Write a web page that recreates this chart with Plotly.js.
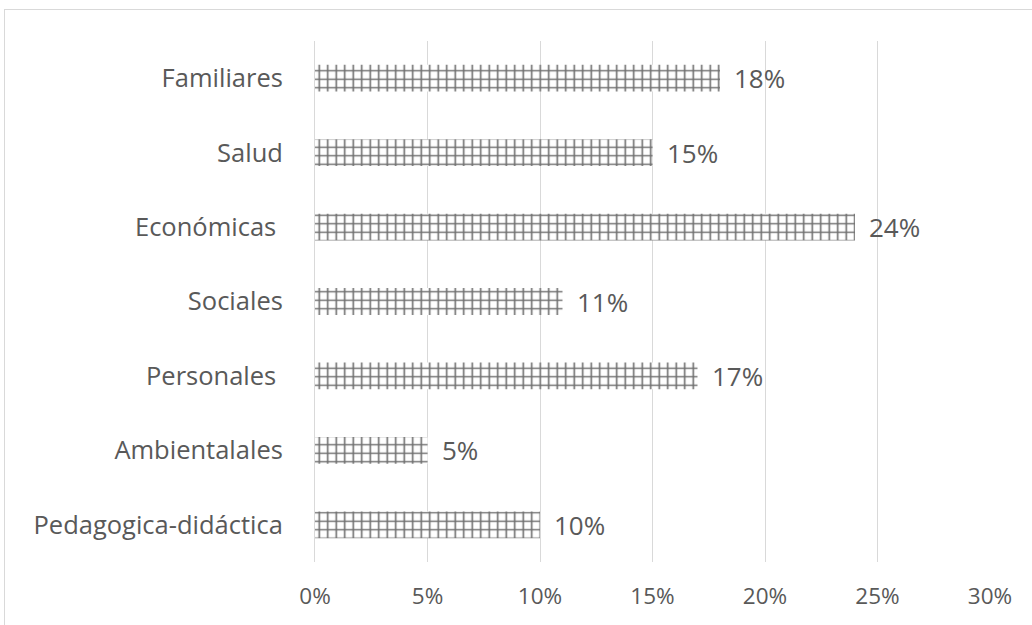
<!DOCTYPE html>
<html>
<head>
<meta charset="utf-8">
<script src="https://cdn.plot.ly/plotly-3.0.1.min.js"></script>
<style>
  html, body { margin: 0; padding: 0; background: #ffffff; overflow: hidden; }
  #frame { position: absolute; left: 4px; top: 9px; width: 1100px; height: 700px; border: 1px solid #d9d9d9; box-sizing: border-box; pointer-events: none; }
  #chart { position: absolute; left: 0; top: 0; width: 1032px; height: 625px; }
</style>
</head>
<body>
<div id="chart"></div>
<div id="frame"></div>
<script>
const categories = ["Familiares", "Salud", "Económicas ", "Sociales", "Personales ", "Ambientalales", "Pedagogica-didáctica"];
const values = [0.18, 0.15, 0.24, 0.11, 0.17, 0.05, 0.10];
const tickValues = [0, 0.05, 0.10, 0.15, 0.20, 0.25, 0.30];
const tickLabels = ["0%", "5%", "10%", "15%", "20%", "25%", "30%"];

const fontFam = "'Open Sans', Lato, sans-serif";
const textColor = "#595959";

const trace = {
  type: "bar",
  orientation: "h",
  x: values,
  y: categories,
  width: 0.36,
  marker: {
    color: "#ffffff",
    pattern: { shape: "+", fgcolor: "#6f6f6f", bgcolor: "#ffffff", size: 8.5, solidity: 0.34 },
    line: { width: 0 }
  },
  hoverinfo: "none"
};

const annotations = values.map((v, i) => ({
  x: v, y: categories[i], xref: "x", yref: "y",
  text: Math.round(v * 100) + "%",
  showarrow: false, xanchor: "left", xshift: 12,
  font: { family: fontFam, size: 26, color: textColor }
}));

const layout = {
  width: 1032, height: 625,
  margin: { l: 315, r: 42, t: 41, b: 63, pad: 0 },
  paper_bgcolor: "rgba(0,0,0,0)",
  plot_bgcolor: "#ffffff",
  showlegend: false,
  bargap: 0.64,
  xaxis: {
    range: [0, 0.30],
    tickvals: tickValues,
    ticktext: tickLabels,
    showgrid: true, gridcolor: "#d9d9d9", gridwidth: 1,
    zeroline: false, showline: false,
    ticks: "", ticklabelstandoff: 18,
    tickfont: { family: fontFam, size: 22.5, color: textColor },
    fixedrange: true
  },
  yaxis: {
    autorange: "reversed",
    showgrid: false, zeroline: false,
    showline: true, linecolor: "#d9d9d9", linewidth: 1,
    ticks: "", ticklabelstandoff: 26,
    tickfont: { family: fontFam, size: 25.5, color: textColor },
    fixedrange: true
  },
  annotations: annotations
};

Plotly.newPlot("chart", [trace], layout, { displayModeBar: false, staticPlot: true });
</script>
</body>
</html>
